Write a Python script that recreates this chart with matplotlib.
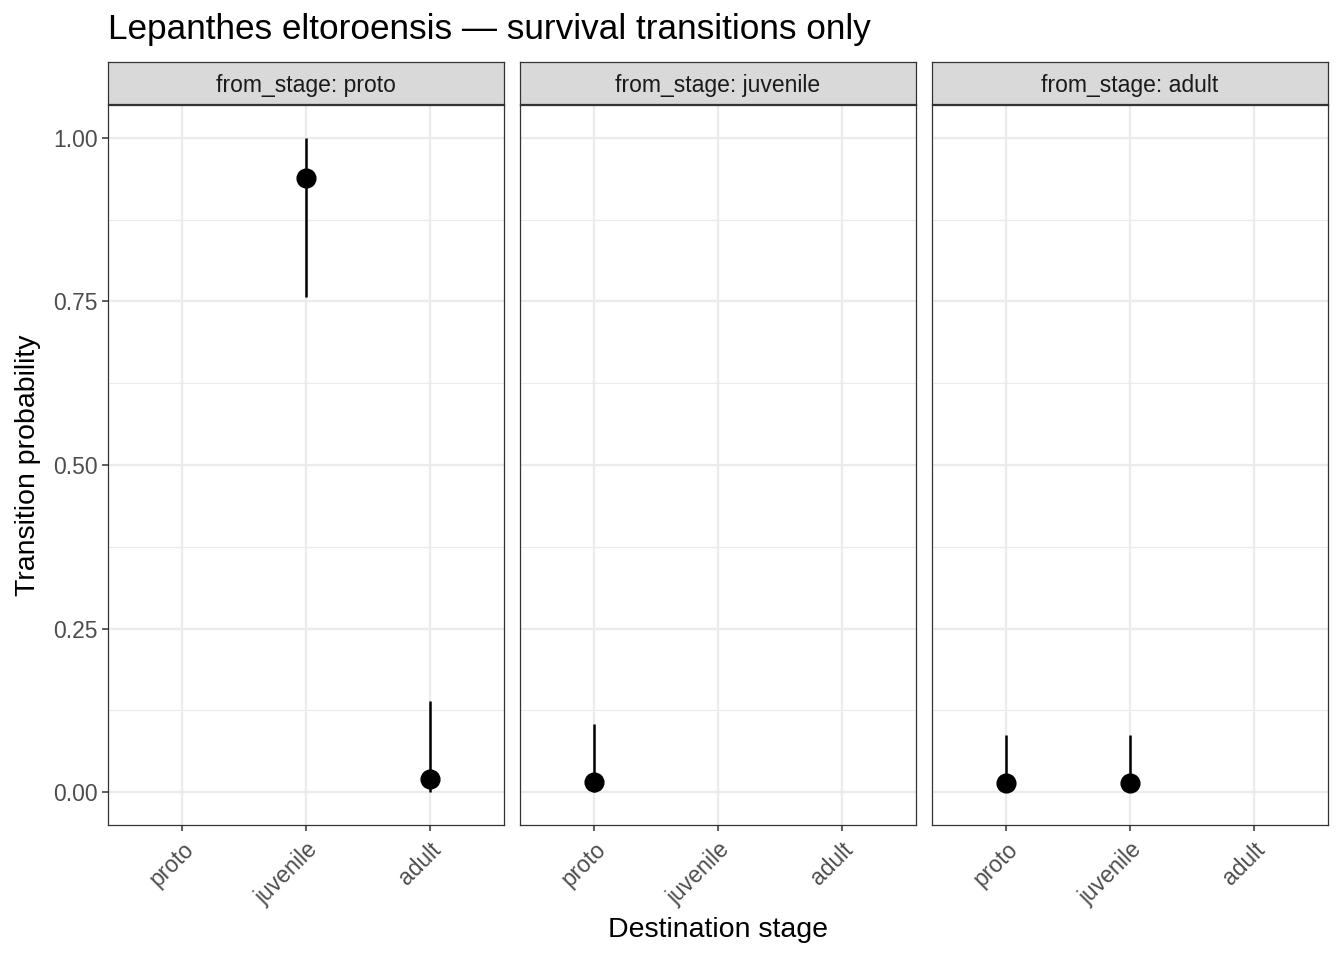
import matplotlib
matplotlib.use("Agg")
import matplotlib.pyplot as plt
from matplotlib.ticker import MultipleLocator

plt.rcParams['font.family'] = ['Liberation Sans', 'DejaVu Sans']

stages = ['proto', 'juvenile', 'adult']
from_stages = ['proto', 'juvenile', 'adult']

# estimates per panel: destination, mean, lower, upper
to_stage = {
    'proto': ['juvenile', 'adult'],
    'juvenile': ['proto'],
    'adult': ['proto', 'juvenile'],
}
est = {
    'proto': [0.938, 0.021],
    'juvenile': [0.015],
    'adult': [0.014, 0.014],
}
lower = {
    'proto': [0.756, 0.001],
    'juvenile': [0.0],
    'adult': [0.0, 0.0],
}
upper = {
    'proto': [1.0, 0.139],
    'juvenile': [0.105],
    'adult': [0.088, 0.088],
}

W, H = 1344, 960
fig = plt.figure(figsize=(W / 100, H / 100), dpi=100)

panel_x = [108, 520, 932]
panel_w = 396
top, bottom = 105, 825
strip_h = 42

grid_col = '#EBEBEB'
for i, fs in enumerate(from_stages):
    x0 = panel_x[i]
    ax = fig.add_axes([x0 / W, 1 - bottom / H, panel_w / W, (bottom - top) / H])
    ax.set_xlim(0.4, 3.6)
    ax.set_ylim(-0.05, 1.05)
    ax.yaxis.set_major_locator(MultipleLocator(0.25))
    ax.yaxis.set_minor_locator(MultipleLocator(0.125))
    ax.set_xticks(range(1, 4))
    ax.set_xticklabels(stages, rotation=45, ha='right', va='top', rotation_mode='anchor')
    ax.grid(True, which='major', color=grid_col, lw=1.6)
    ax.grid(True, which='minor', axis='y', color=grid_col, lw=0.8)
    ax.set_axisbelow(True)
    for s in ax.spines.values():
        s.set_color('#333333')
        s.set_linewidth(0.9)
    ax.tick_params(axis='both', which='major', colors='#333333', length=4.5, width=1.1,
                   labelsize=16.5, labelcolor='#4D4D4D')
    ax.tick_params(axis='y', which='minor', length=0)
    ax.tick_params(axis='x', pad=5)
    ax.tick_params(axis='y', pad=3)
    if i == 0:
        ax.set_yticks([0, 0.25, 0.5, 0.75, 1.0])
        ax.set_yticklabels(['0.00', '0.25', '0.50', '0.75', '1.00'])
    else:
        ax.tick_params(axis='y', which='both', left=False, labelleft=False)

    xs = [stages.index(t) + 1 for t in to_stage[fs]]
    for x, m, lo, hi in zip(xs, est[fs], lower[fs], upper[fs]):
        ax.plot([x, x], [lo, hi], color='black', lw=1.8, solid_capstyle='butt', zorder=3)
        ax.plot(x, m, 'o', color='black', ms=13.5, zorder=4)

    # facet strip
    sax = fig.add_axes([x0 / W, 1 - (top - 1) / H, panel_w / W, strip_h / H])
    sax.set_xticks([])
    sax.set_yticks([])
    sax.set_facecolor('#D9D9D9')
    for s in sax.spines.values():
        s.set_color('#333333')
        s.set_linewidth(0.9)
    sax.text(0.5, 0.5, f'from_stage: {fs}', ha='center', va='center_baseline',
             fontsize=16.5, color='#1A1A1A', transform=sax.transAxes)

fig.text(108 / W, 1 - 30 / H, 'Lepanthes eltoroensis \u2014 survival transitions only',
         fontsize=25.3, ha='left', va='center', color='black')
fig.text(718 / W, 1 - 930 / H, 'Destination stage', fontsize=20.5, ha='center', va='center')
fig.text(28 / W, 1 - 465 / H, 'Transition probability', fontsize=20.5, ha='center',
         va='center', rotation=90)

fig.savefig('out.png', dpi=100)
